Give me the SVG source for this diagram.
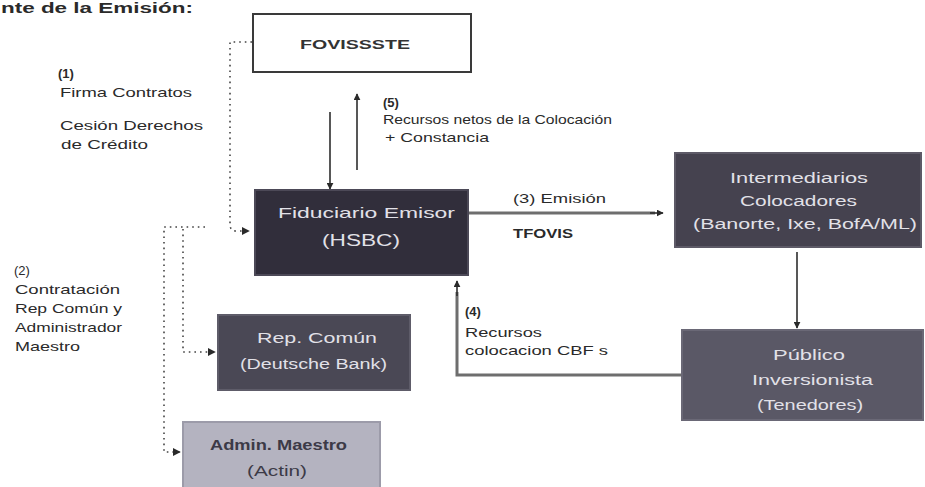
<svg xmlns="http://www.w3.org/2000/svg" width="925" height="487" viewBox="0 0 925 487">
<defs>
<marker id="ah" viewBox="0 0 10 10" refX="9" refY="5" markerWidth="7" markerHeight="7" markerUnits="userSpaceOnUse" orient="auto"><path d="M0,0 L10,5 L0,10 z" fill="#2a2a2a"/></marker>
<marker id="ahd" viewBox="0 0 10 10" refX="9" refY="5" markerWidth="8" markerHeight="8" markerUnits="userSpaceOnUse" orient="auto"><path d="M0,0 L10,5 L0,10 z" fill="#2a2a2a"/></marker>
<style>
text{font-family:"Liberation Sans",Arial,sans-serif;}
.lbl{font-size:13px;fill:#2a2a2a;}
.bx{font-size:14px;fill:#e2e1e8;}
.dot{fill:none;stroke:#444;stroke-width:1.6;stroke-dasharray:1.6 4;}
.sol{fill:none;stroke:#2e2e2e;stroke-width:1.6;}
.thk{fill:none;stroke:#6e6e6e;stroke-width:3;}
</style>
</defs>
<rect width="925" height="487" fill="#ffffff"/>
<text x="1" y="13" style="font-size:14px;font-weight:bold;fill:#2a2a2a" textLength="192" lengthAdjust="spacingAndGlyphs">nte de la Emisión:</text>

<g id="connectors">
<path class="dot" d="M252,42 H230 V226 Q231,231 236,231 H249" marker-end="url(#ahd)"/>
<path class="dot" d="M205,227 H164 V452 H180" marker-end="url(#ahd)"/>
<path class="dot" d="M183,229 V352 H215" marker-end="url(#ahd)"/>
<path class="sol" d="M330,112 V189" marker-end="url(#ah)"/>
<path class="sol" d="M357,170 V94" marker-end="url(#ah)"/>
<path class="thk" d="M468,213 H655"/>
<path class="sol" d="M650,213 H663" marker-end="url(#ah)"/>
<path class="sol" d="M797,252 V328" marker-end="url(#ah)"/>
<path class="thk" d="M682,375 H457 V292"/>
<path class="sol" d="M457,296 V281" marker-end="url(#ah)"/>
</g>

<g id="fovissste">
<rect x="253" y="14" width="218" height="58" fill="#ffffff" stroke="#3a3a3a" stroke-width="2"/>
<text x="300" y="49" style="font-size:13px;font-weight:bold;fill:#333" textLength="110" lengthAdjust="spacingAndGlyphs">FOVISSSTE</text>
</g>

<g id="fiduciario">
<rect x="255" y="190" width="213" height="85" fill="#312e3b" stroke="#4c4957" stroke-width="2"/>
<text class="bx" x="278" y="218" style="font-size:15px" textLength="177" lengthAdjust="spacingAndGlyphs">Fiduciario Emisor</text>
<text class="bx" x="322" y="246" style="font-size:16px" textLength="78" lengthAdjust="spacingAndGlyphs">(HSBC)</text>
</g>

<g id="intermediarios">
<rect x="675" y="153" width="246" height="94" fill="#45424f" stroke="#5d5a67" stroke-width="2"/>
<text class="bx" x="730" y="183" textLength="138" lengthAdjust="spacingAndGlyphs">Intermediarios</text>
<text class="bx" x="740" y="206" textLength="117" lengthAdjust="spacingAndGlyphs">Colocadores</text>
<text class="bx" x="693" y="229" textLength="224" lengthAdjust="spacingAndGlyphs">(Banorte, Ixe, BofA/ML)</text>
</g>

<g id="publico">
<rect x="682" y="330" width="241" height="90" fill="#5a5866" stroke="#6a6876" stroke-width="2"/>
<text class="bx" x="773" y="360" textLength="72" lengthAdjust="spacingAndGlyphs">Público</text>
<text class="bx" x="752" y="385" textLength="121" lengthAdjust="spacingAndGlyphs">Inversionista</text>
<text class="bx" x="757" y="410" textLength="106" lengthAdjust="spacingAndGlyphs">(Tenedores)</text>
</g>

<g id="repcomun">
<rect x="218" y="315" width="192" height="75" fill="#4a4855" stroke="#5e5c69" stroke-width="2"/>
<text class="bx" x="257" y="343" textLength="120" lengthAdjust="spacingAndGlyphs">Rep. Común</text>
<text class="bx" x="240" y="369" textLength="147" lengthAdjust="spacingAndGlyphs">(Deutsche Bank)</text>
</g>

<g id="admin">
<rect x="183" y="422" width="197" height="68" fill="#b4b3c0" stroke="#9c9ba9" stroke-width="2"/>
<text x="210" y="450" style="font-size:14px;font-weight:bold;fill:#3c3a47" textLength="137" lengthAdjust="spacingAndGlyphs">Admin. Maestro</text>
<text x="247" y="476" style="font-size:14px;fill:#3c3a47" textLength="60" lengthAdjust="spacingAndGlyphs">(Actin)</text>
</g>

<g id="labels">
<text class="lbl" x="58" y="78" style="font-weight:bold">(1)</text>
<text class="lbl" x="60" y="97" textLength="132" lengthAdjust="spacingAndGlyphs">Firma Contratos</text>
<text class="lbl" x="60" y="130" textLength="143" lengthAdjust="spacingAndGlyphs">Cesión Derechos</text>
<text class="lbl" x="61" y="149" textLength="87" lengthAdjust="spacingAndGlyphs">de Crédito</text>

<text class="lbl" x="14" y="275">(2)</text>
<text class="lbl" x="15" y="294" textLength="105" lengthAdjust="spacingAndGlyphs">Contratación</text>
<text class="lbl" x="15" y="313" textLength="107" lengthAdjust="spacingAndGlyphs">Rep Común y</text>
<text class="lbl" x="15" y="332" textLength="107" lengthAdjust="spacingAndGlyphs">Administrador</text>
<text class="lbl" x="15" y="351" textLength="65" lengthAdjust="spacingAndGlyphs">Maestro</text>

<text class="lbl" x="383" y="107" style="font-weight:bold">(5)</text>
<text class="lbl" x="383" y="124" textLength="229" lengthAdjust="spacingAndGlyphs">Recursos netos de la Colocación</text>
<text class="lbl" x="385" y="142" textLength="104" lengthAdjust="spacingAndGlyphs">+ Constancia</text>

<text class="lbl" x="513" y="203" textLength="93" lengthAdjust="spacingAndGlyphs">(3) Emisión</text>
<text class="lbl" x="513" y="238" style="font-weight:bold" textLength="60" lengthAdjust="spacingAndGlyphs">TFOVIS</text>

<text class="lbl" x="465" y="316" style="font-weight:bold">(4)</text>
<text class="lbl" x="465" y="337" textLength="77" lengthAdjust="spacingAndGlyphs">Recursos</text>
<text class="lbl" x="465" y="355" textLength="143" lengthAdjust="spacingAndGlyphs">colocacion CBF s</text>
</g>
</svg>
